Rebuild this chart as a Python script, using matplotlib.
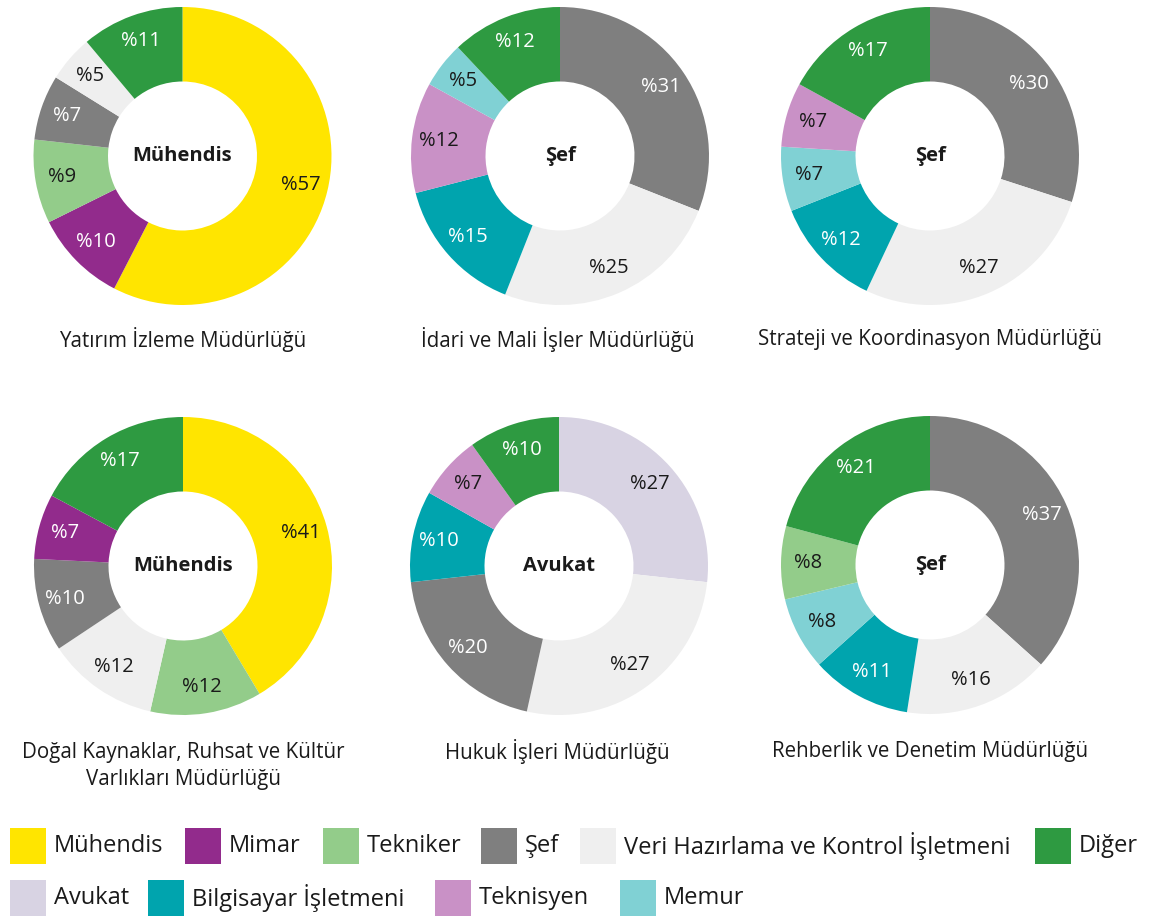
import matplotlib
matplotlib.use("Agg")
import matplotlib.pyplot as plt
from matplotlib.patches import Rectangle
import numpy as np

W, H = 1149, 918
plt.rcParams['font.family'] = ['Open Sans', 'DejaVu Sans']

# ---- data ----
categories = ["Mühendis", "Mimar", "Tekniker", "Şef",
              "Veri Hazırlama ve Kontrol İşletmeni", "Diğer",
              "Avukat", "Bilgisayar İşletmeni", "Teknisyen", "Memur"]
cat_colors = ["#FFE500", "#922B8C", "#93CC8A", "#7F7F7F", "#EFEFEF",
              "#2E9A41", "#D8D3E3", "#00A4AE", "#C991C6", "#80D1D4"]
white_text_cats = ["Mimar", "Şef", "Diğer", "Bilgisayar İşletmeni"]

titles = ["Yatırım İzleme Müdürlüğü",
          "İdari ve Mali İşler Müdürlüğü",
          "Strateji ve Koordinasyon Müdürlüğü",
          "Doğal Kaynaklar, Ruhsat ve Kültür\nVarlıkları Müdürlüğü",
          "Hukuk İşleri Müdürlüğü",
          "Rehberlik ve Denetim Müdürlüğü"]
center_labels = ["Mühendis", "Şef", "Şef", "Mühendis", "Avukat", "Şef"]

c1_cats = ["Mühendis", "Mimar", "Tekniker", "Şef",
           "Veri Hazırlama ve Kontrol İşletmeni", "Diğer"]
c1_vals = [57, 10, 9, 7, 5, 11]

c2_cats = ["Şef", "Veri Hazırlama ve Kontrol İşletmeni", "Bilgisayar İşletmeni",
           "Teknisyen", "Memur", "Diğer"]
c2_vals = [31, 25, 15, 12, 5, 12]

c3_cats = ["Şef", "Veri Hazırlama ve Kontrol İşletmeni", "Bilgisayar İşletmeni",
           "Memur", "Teknisyen", "Diğer"]
c3_vals = [30, 27, 12, 7, 7, 17]

c4_cats = ["Mühendis", "Tekniker", "Veri Hazırlama ve Kontrol İşletmeni",
           "Şef", "Mimar", "Diğer"]
c4_vals = [41, 12, 12, 10, 7, 17]

c5_cats = ["Avukat", "Veri Hazırlama ve Kontrol İşletmeni", "Şef",
           "Bilgisayar İşletmeni", "Teknisyen", "Diğer"]
c5_vals = [27, 27, 20, 10, 7, 10]

c6_cats = ["Şef", "Veri Hazırlama ve Kontrol İşletmeni", "Bilgisayar İşletmeni",
           "Memur", "Tekniker", "Diğer"]
c6_vals = [37, 16, 11, 8, 8, 21]

charts = [(c1_cats, c1_vals), (c2_cats, c2_vals), (c3_cats, c3_vals),
          (c4_cats, c4_vals), (c5_cats, c5_vals), (c6_cats, c6_vals)]

# ---- layout (pixels) ----
centers = [(182.5, 156), (560, 156), (930, 156),
           (183, 566), (559, 566), (930, 565)]
title_pos = [(183, 340), (558, 340), (930, 340),
             (183, 766), (557, 752), (930, 752)]
R = 149

color_of = dict(zip(categories, cat_colors))

fig = plt.figure(figsize=(W / 100, H / 100), dpi=100)


def px_rect(x, y, w, h):
    return [x / W, 1 - (y + h) / H, w / W, h / H]


for i, (cats, vals) in enumerate(charts):
    cx, cy = centers[i]
    ax = fig.add_axes(px_rect(cx - R, cy - R, 2 * R, 2 * R))
    wedges, _ = ax.pie(vals, colors=[color_of[c] for c in cats], startangle=90,
                       counterclock=False, radius=1,
                       wedgeprops=dict(width=0.5, linewidth=0))
    ax.set_xlim(-1, 1)
    ax.set_ylim(-1, 1)
    ax.set_aspect('equal')
    ax.axis('off')
    for w, c, v in zip(wedges, cats, vals):
        ang = np.deg2rad((w.theta1 + w.theta2) / 2)
        r = 0.82
        ax.text(r * np.cos(ang), r * np.sin(ang), f"%{v}",
                ha='center', va='center', fontsize=14.5,
                color='white' if c in white_text_cats else '#1a1a1a')
    ax.text(0, 0, center_labels[i], ha='center', va='center',
            fontsize=14.5, fontweight='bold', color='#1a1a1a')
    tx, ty = title_pos[i]
    fig.text(tx / W, 1 - ty / H, titles[i], ha='center', va='center',
             fontsize=14.8, color='#1a1a1a', linespacing=1.35)

# ---- legend ----
legend_rows = [
    [("Mühendis", 10), ("Mimar", 185), ("Tekniker", 323), ("Şef", 481),
     ("Veri Hazırlama ve Kontrol İşletmeni", 580), ("Diğer", 1035)],
    [("Avukat", 10), ("Bilgisayar İşletmeni", 148), ("Teknisyen", 435),
     ("Memur", 620)],
]
row_y = [828, 880]
sq = 36
for row, y in zip(legend_rows, row_y):
    for name, x in row:
        fig.add_artist(Rectangle((x / W, 1 - (y + sq) / H), sq / W, sq / H,
                                 transform=fig.transFigure,
                                 facecolor=color_of[name], edgecolor='none'))
        fig.text((x + sq + 8) / W, 1 - (y + sq / 2) / H, name,
                 ha='left', va='center', fontsize=17, color='#1a1a1a')

fig.savefig("out.png", dpi=100)
